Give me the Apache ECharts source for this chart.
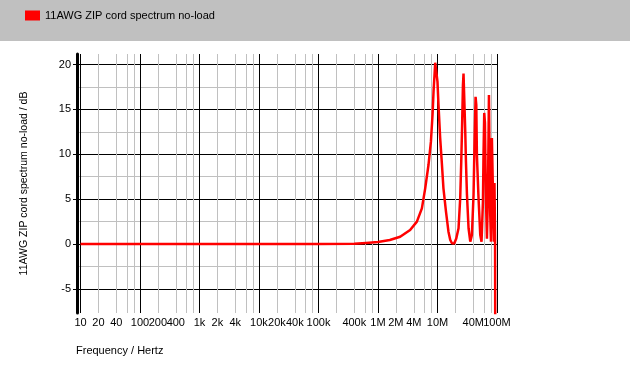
<!DOCTYPE html>
<html>
<head>
<meta charset="utf-8">
<script src="https://cdn.jsdelivr.net/npm/echarts@6/dist/echarts.min.js"></script>
<style>html,body{margin:0;padding:0;background:#fff;}#c{width:630px;height:365px;}</style>
</head>
<body>
<div id="c"></div>
<script>
// ---- data ----
const seriesName = '11AWG ZIP cord spectrum no-load';
const freqHz = [10, 1e5, 4.0e5, 6.3e5, 1.0e6, 1.58e6, 2.36e6, 3.47e6, 4.51e6, 5.47e6, 6.22e6, 7.06e6, 7.76e6, 8.26e6, 8.59e6, 8.91e6, 9.16e6, 9.64e6, 10.0e6, 10.4e6, 11.1e6, 11.9e6, 12.6e6, 13.9e6, 15.3e6, 16.4e6, 17.5e6, 19.1e6, 20.7e6, 22.6e6, 24.1e6, 25.1e6, 25.8e6, 26.8e6, 27.4e6, 28.5e6, 29.3e6, 30.1e6, 31.3e6, 33.3e6, 35.6e6, 37.9e6, 40.4e6, 42.0e6, 43.7e6, 44.9e6, 46.0e6, 49.0e6, 52.4e6, 55.0e6, 58.1e6, 59.4e6, 61.1e6, 62.8e6, 64.3e6, 66.1e6, 67.8e6, 70.5e6, 73.3e6, 75.0e6, 77.1e6, 79.3e6, 82.2e6, 84.9e6, 86.5e6, 88.9e6, 90.8e6, 92.9e6, 93.5e6];
const dB =     [0, 0, 0.02, 0.12, 0.22, 0.45, 0.81, 1.56, 2.49, 3.97, 6.2, 8.8, 11.4, 14.4, 17.0, 18.8, 20.2, 20.3, 18.1, 15.5, 11.8, 8.8, 6.2, 3.6, 1.37, 0.45, 0.08, 0.05, 0.6, 1.75, 5.1, 9.2, 12.5, 17.7, 19.0, 18.8, 12.5, 9.2, 5.5, 1.75, 0.26, 1.0, 5.5, 11.4, 16.4, 15.5, 9.9, 5.1, 1.0, 0.26, 4.7, 9.9, 14.6, 13.5, 8.1, 3.6, 0.6, 5.5, 16.6, 9.9, 3.2, 0.26, 11.8, 7.0, 3.6, 0.26, 6.8, 0.5, -9];
const xTickHz = [10, 20, 40, 100, 200, 400, 1e3, 2e3, 4e3, 1e4, 2e4, 4e4, 1e5, 4e5, 1e6, 2e6, 4e6, 1e7, 4e7, 1e8];
const xTickLabels = ['10', '20', '40', '100', '200', '400', '1k', '2k', '4k', '10k', '20k', '40k', '100k', '400k', '1M', '2M', '4M', '10M', '40M', '100M'];
const xDecadesHz = [10, 100, 1e3, 1e4, 1e5, 1e6, 1e7, 1e8];
const xMinorMult = [2, 4, 6, 8];
const yTickValues = [-5, 0, 5, 10, 15, 20];
const yGridValues = [-5, -2.5, 0, 2.5, 5, 7.5, 10, 12.5, 15, 17.5, 20];
const yMin = -7.69, yMax = 21.17;
const xMinLog = 0.9412, xMaxLog = 8.0005;

// ---- build ----
const xGridLog = [];
xDecadesHz.forEach((d, i) => {
  xGridLog.push(Math.log10(d));
  if (i < xDecadesHz.length - 1) xMinorMult.forEach(m => xGridLog.push(Math.log10(d * m)));
});
const xLabelLog = xTickHz.map(v => Math.log10(v));
// alternate labels over two overlaid axes so touching labels are all kept
const xLabelLogA = xLabelLog.filter((_, i) => i % 2 === 0);
const xLabelLogB = xLabelLog.filter((_, i) => i % 2 === 1);
const fmtX = v => { const i = xLabelLog.findIndex(t => Math.abs(t - v) < 1e-6); return i >= 0 ? xTickLabels[i] : ''; };
const grey = '#c0c0c0';
const font = '"Liberation Sans", Arial, sans-serif';
const xLabelStyle = {margin: 4, fontFamily: font, fontSize: 11, color: '#000', showMinLabel: true, showMaxLabel: true, hideOverlap: false, formatter: fmtX};

const chart = echarts.init(document.getElementById('c'), null, {renderer: 'canvas'});
chart.setOption({
  animation: false,
  backgroundColor: '#ffffff',
  graphic: [{type: 'rect', left: 0, top: 0, z: -10, shape: {width: 630, height: 41}, style: {fill: '#c0c0c0'}}],
  title: {text: 'Frequency / Hertz', left: 71, top: 340, textStyle: {fontFamily: font, fontSize: 11, fontWeight: 'normal', color: '#000'}},
  legend: {
    left: 20, top: 5, icon: 'rect', itemWidth: 15, itemHeight: 10, itemGap: 10,
    textStyle: {fontFamily: font, fontSize: 11, color: '#000'},
    data: [seriesName]
  },
  grid: {left: 77, right: 133, top: 54, bottom: 52},
  xAxis: [
    {type: 'log', min: Math.pow(10, xMinLog), max: Math.pow(10, xMaxLog), show: false},
    {type: 'value', min: xMinLog, max: xMaxLog, position: 'bottom',
     axisLine: {show: false},
     axisTick: {show: false, customValues: xGridLog},
     splitLine: {show: true, showMinLine: true, showMaxLine: true, lineStyle: {width: 1, color: ['#000', grey, grey, grey, grey]}},
     axisLabel: Object.assign({customValues: xLabelLogA}, xLabelStyle)},
    {type: 'value', min: xMinLog, max: xMaxLog, position: 'bottom',
     axisLine: {show: false},
     axisTick: {show: false, customValues: xLabelLogB},
     splitLine: {show: false},
     axisLabel: Object.assign({customValues: xLabelLogB}, xLabelStyle)}
  ],
  yAxis: [
    {type: 'value', min: yMin, max: yMax, position: 'left',
     name: '11AWG ZIP cord spectrum no-load / dB', nameLocation: 'middle', nameGap: 47,
     nameTextStyle: {fontFamily: font, fontSize: 10.5, color: '#000'},
     axisLine: {show: true, lineStyle: {color: '#000', width: 3}},
     axisTick: {show: false, customValues: yGridValues},
     axisLabel: {show: false},
     splitLine: {show: true, lineStyle: {width: 1, color: ['#000', grey]}}},
    {type: 'value', min: yMin, max: yMax, position: 'left',
     axisLine: {show: false},
     axisTick: {show: true, length: 4, customValues: yTickValues, lineStyle: {color: '#000'}},
     axisLabel: {customValues: yTickValues, margin: 6, fontFamily: font, fontSize: 11, color: '#000'},
     splitLine: {show: false}}
  ],
  series: [{
    name: seriesName, type: 'line', xAxisIndex: 0, yAxisIndex: 0,
    data: freqHz.map((f, i) => [f, dB[i]]),
    showSymbol: false, symbol: 'none', clip: true,
    color: '#ff0000',
    lineStyle: {color: '#ff0000', width: 2.5}
  }]
});
</script>
</body>
</html>
